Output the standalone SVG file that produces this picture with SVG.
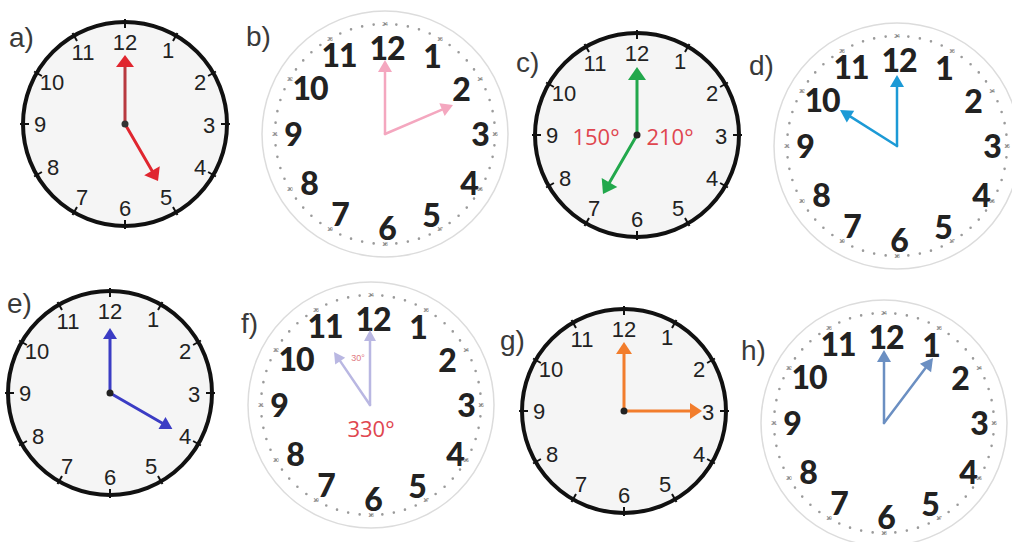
<svg xmlns="http://www.w3.org/2000/svg" width="1012" height="542" viewBox="0 0 1012 542">
<style>
.bg{fill:#ffffff}
.lbl{font-family:"Liberation Sans",Arial,sans-serif;font-size:28px;fill:#3a3a3a}
.bn{font-family:"Liberation Sans",Arial,sans-serif;font-size:22px;fill:#222;text-anchor:middle}
.ln{font-family:Lato,"Liberation Sans",sans-serif;font-weight:900;font-size:32px;fill:#222;text-anchor:middle;letter-spacing:-1px}
.tn{font-family:"Liberation Sans",Arial,sans-serif;font-size:5px;fill:#777;text-anchor:middle}
.deg{font-family:"Open Sans","Liberation Sans",sans-serif;font-size:22px;fill:#e0464f;text-anchor:middle}
.hand{stroke-width:3;stroke-linecap:round;fill:none}
.lhand{stroke-width:2.5;stroke-linecap:round;fill:none}
</style>
<defs>
<g id="bface">
<circle r="102" fill="#f5f5f5" stroke="#111" stroke-width="4"/>
<path stroke="#111" stroke-width="2" d="M0 -96V-105M48 -83.1L52.5 -90.9M83.1 -48L90.9 -52.5M96 0H105M83.1 48L90.9 52.5M48 83.1L52.5 90.9M0 96V105M-48 83.1L-52.5 90.9M-83.1 48L-90.9 52.5M-96 0H-105M-83.1 -48L-90.9 -52.5M-48 -83.1L-52.5 -90.9"/>
<text class="bn" x="0" y="-74">12</text>
<text class="bn" x="43" y="-66">1</text>
<text class="bn" x="75" y="-34">2</text>
<text class="bn" x="84" y="9">3</text>
<text class="bn" x="75" y="51">4</text>
<text class="bn" x="41" y="81">5</text>
<text class="bn" x="0" y="92">6</text>
<text class="bn" x="-43" y="81">7</text>
<text class="bn" x="-72" y="51">8</text>
<text class="bn" x="-85" y="8">9</text>
<text class="bn" x="-73" y="-34">10</text>
<text class="bn" x="-42" y="-64">11</text>
</g>
<g id="lface">
<circle r="123" fill="#ffffff" stroke="#dcdcdc" stroke-width="1.5"/>
<circle r="110" fill="none" stroke="#9a9a9a" stroke-width="2.6" stroke-linecap="round" pathLength="60" stroke-dasharray="0 1"/>
<text class="ln" x="2" y="-74">12</text>
<text class="ln" x="47" y="-66">1</text>
<text class="ln" x="76" y="-33">2</text>
<text class="ln" x="95" y="12">3</text>
<text class="ln" x="84" y="61">4</text>
<text class="ln" x="46" y="93">5</text>
<text class="ln" x="2" y="106">6</text>
<text class="ln" x="-45" y="92">7</text>
<text class="ln" x="-76" y="61">8</text>
<text class="ln" x="-92" y="12">9</text>
<text class="ln" x="-75" y="-34">10</text>
<text class="ln" x="-46" y="-67">11</text>
<text class="tn" x="0" y="-108">24</text>
<text class="tn" x="55" y="-93">13</text>
<text class="tn" x="95" y="-53">14</text>
<text class="tn" x="110" y="2">15</text>
<text class="tn" x="95" y="57">16</text>
<text class="tn" x="55" y="97">17</text>
<text class="tn" x="0" y="112">18</text>
<text class="tn" x="-55" y="97">19</text>
<text class="tn" x="-95" y="57">20</text>
<text class="tn" x="-110" y="2">21</text>
<text class="tn" x="-95" y="-53">22</text>
<text class="tn" x="-55" y="-93">23</text>
</g>
</defs>
<rect class="bg" width="1012" height="542"/>

<g id="clock-a">
<use href="#bface" transform="translate(125 124)"/>
<text class="lbl" x="9" y="47">a)</text>
</g>
<g id="clock-b">
<use href="#lface" transform="translate(385 134)"/>
<text class="lbl" x="246" y="46">b)</text>
</g>
<g id="clock-c">
<use href="#bface" transform="translate(637 135)"/>
<text class="lbl" x="516" y="72">c)</text>
<text class="deg" x="596" y="145">150°</text>
<text class="deg" x="670" y="145">210°</text>
</g>
<g id="clock-d">
<use href="#lface" transform="translate(897 146)"/>
<text class="lbl" x="749" y="75">d)</text>
</g>
<g id="clock-e">
<use href="#bface" transform="translate(110 393)"/>
<text class="lbl" x="7" y="313">e)</text>
</g>
<g id="clock-f">
<use href="#lface" transform="translate(371 405)"/>
<text class="lbl" x="241" y="333">f)</text>
<text x="358" y="361" style="font-family:'Liberation Sans',sans-serif;font-size:9px;fill:#e07a82;text-anchor:middle">30°</text>
<text class="deg" x="371" y="437">330°</text>
</g>
<g id="clock-g">
<use href="#bface" transform="translate(624 411)"/>
<text class="lbl" x="500" y="350">g)</text>
</g>
<g id="clock-h">
<use href="#lface" transform="translate(884 423)"/>
<text class="lbl" x="741" y="360">h)</text>
</g>

<g id="connectors">
<!-- a -->
<line class="hand" stroke="#b8393f" x1="125" y1="124" x2="125" y2="67"/>
<polygon fill="#e0262f" points="125,55 116,67 134,67"/>
<line class="hand" stroke="#e0262f" x1="125" y1="124" x2="152" y2="170.8"/>
<polygon fill="#e0262f" points="158,181 144.2,175.3 159.8,166.3"/>
<circle cx="125" cy="124" r="3.5" fill="#333"/>
<!-- b -->
<line class="lhand" stroke="#f4a7bf" x1="385" y1="134" x2="385" y2="72"/>
<polygon fill="#f4a7bf" points="385,60 378,72 392,72"/>
<line class="lhand" stroke="#f4a7bf" x1="385" y1="134" x2="442" y2="109.7"/>
<polygon fill="#f4a7bf" points="453,105 444.7,116.1 439.3,103.3"/>
<!-- c -->
<line class="hand" stroke="#22a84c" x1="637" y1="135" x2="637" y2="79"/>
<polygon fill="#22a84c" points="637,67 628,80 646,80"/>
<line class="hand" stroke="#22a84c" x1="637" y1="135" x2="609.5" y2="182.6"/>
<polygon fill="#22a84c" points="603,193.9 601.7,178.1 617.3,187.1"/>
<circle cx="637" cy="135" r="3.5" fill="#222"/>
<!-- d -->
<line class="lhand" stroke="#1c9ad6" x1="897" y1="146" x2="897" y2="87"/>
<polygon fill="#1c9ad6" points="897,75 890,87 904,87"/>
<line class="lhand" stroke="#1c9ad6" x1="897" y1="146" x2="850.5" y2="116.6"/>
<polygon fill="#1c9ad6" points="840,110 854.2,110.7 846.8,122.5"/>
<!-- e -->
<line class="hand" stroke="#3b3cc4" x1="110" y1="393" x2="110" y2="339"/>
<polygon fill="#3b3cc4" points="110,328 103,339 117,339"/>
<line class="hand" stroke="#3b3cc4" x1="110" y1="393" x2="162" y2="423"/>
<polygon fill="#3b3cc4" points="172.4,429 158.5,429.1 165.5,416.9"/>
<circle cx="110" cy="393" r="3.5" fill="#222"/>
<!-- f -->
<line class="lhand" stroke="#b9b7e2" x1="370" y1="405" x2="370" y2="341"/>
<polygon fill="#b9b7e2" points="370,330 364,341 376,341"/>
<line class="lhand" stroke="#b9b7e2" x1="370" y1="405" x2="340.2" y2="361.1"/>
<polygon fill="#b9b7e2" points="334,352 345.2,357.7 335.2,364.5"/>
<!-- g -->
<line class="hand" stroke="#f27d2c" x1="624" y1="411" x2="624" y2="354"/>
<polygon fill="#f27d2c" points="624,342 616,354 632,354"/>
<line class="hand" stroke="#f27d2c" x1="624" y1="411" x2="690" y2="411"/>
<polygon fill="#f27d2c" points="702,411 690,403 690,419"/>
<circle cx="624" cy="411" r="3.5" fill="#222"/>
<!-- h -->
<line class="lhand" stroke="#6b8fc2" x1="884" y1="423" x2="884" y2="362"/>
<polygon fill="#6b8fc2" points="884,350 877,362 891,362"/>
<line class="lhand" stroke="#6b8fc2" x1="884" y1="423" x2="925.5" y2="368"/>
<polygon fill="#6b8fc2" points="933,358 931.1,372.2 919.9,363.8"/>
</g>
</svg>
